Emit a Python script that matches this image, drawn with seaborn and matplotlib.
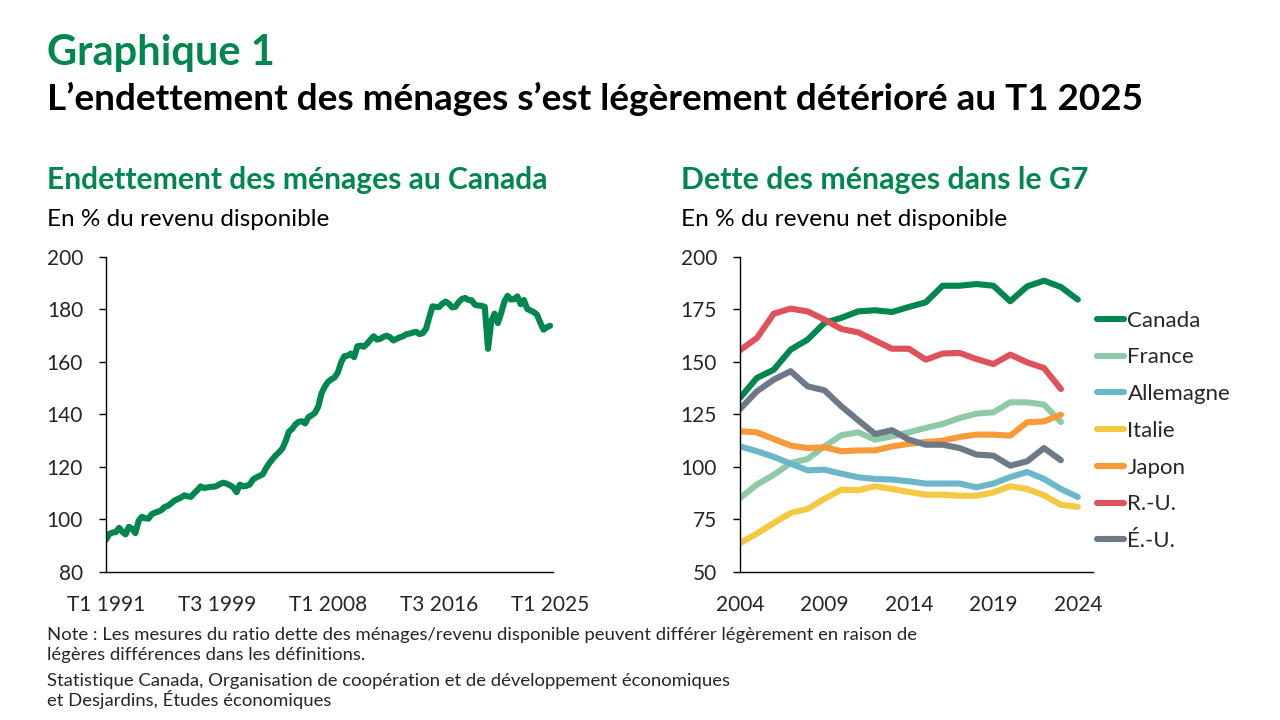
import numpy as np
import pandas as pd
import matplotlib
matplotlib.use("Agg")
import matplotlib.pyplot as plt
import seaborn as sns

# Endettement des ménages au Canada, trimestriel T1 1991 - T1 2025 (% du revenu disponible)
canada_trim = [
    92.3, 94.5, 95.0, 95.2, 96.8, 95.3, 94.3, 97.2, 96.5, 94.8,
    99.5, 101.0, 100.5, 100.3, 102.0, 102.6, 103.0, 103.6, 104.8, 105.2,
    106.2, 107.2, 107.8, 108.4, 109.2, 108.8, 108.6, 110.0, 111.2, 112.6,
    112.0, 112.2, 112.4, 112.5, 112.8, 113.6, 114.0, 113.6, 113.0, 112.2,
    110.4, 113.3, 112.6, 112.8, 113.3, 115.2, 116.0, 116.6, 117.2, 119.5,
    121.4, 123.0, 124.4, 125.6, 127.0, 129.8, 133.4, 134.5, 136.2, 137.2,
    137.4, 136.6, 139.0, 139.7, 140.6, 143.0, 148.0, 150.6, 152.4, 153.4,
    154.1, 156.0, 159.8, 162.2, 162.4, 163.2, 161.8, 166.0, 166.2, 165.8,
    167.0, 168.5, 169.8, 168.5, 168.8, 169.6, 170.0, 169.4, 168.2, 168.8,
    169.4, 169.8, 170.6, 170.8, 171.2, 171.5, 170.6, 171.0, 172.6, 177.0,
    181.2, 181.0, 180.9, 182.2, 183.0, 182.2, 180.8, 181.0, 182.8, 184.0,
    184.4, 183.6, 183.5, 181.8, 181.5, 181.4, 181.0, 165.0, 175.5, 178.4,
    174.8, 178.5, 183.0, 185.2, 183.8, 183.9, 185.0, 182.0, 183.6, 180.2,
    179.6, 179.0, 178.0, 175.0, 172.3, 173.2, 173.8,
]
trim_ticks = [0, 34, 68, 102, 136]
trim_labels = ["T1 1991", "T3 1999", "T1 2008", "T3 2016", "T1 2025"]

# Dette des ménages dans le G7 (% du revenu net disponible)
annees = list(range(2004, 2025))
g7_canada = [132.9, 142.4, 146.3, 155.9, 160.6, 168.6, 171.0, 174.1, 174.6, 173.8,
             176.2, 178.4, 186.3, 186.3, 187.1, 186.3, 178.9, 186.0, 188.7, 185.7, 179.7]
g7_france = [85.2, 91.6, 96.3, 101.9, 103.8, 109.8, 115.1, 116.5, 113.0, 114.6,
             116.5, 118.6, 120.5, 123.3, 125.4, 126.0, 130.8, 130.8, 129.7, 121.4, None]
g7_allemagne = [109.8, 107.5, 104.8, 101.6, 98.4, 98.7, 96.8, 95.1, 94.3, 94.0,
                93.2, 92.1, 92.1, 92.1, 90.3, 92.1, 95.2, 97.6, 94.3, 89.5, 85.7]
g7_italie = [63.8, 68.3, 73.3, 78.1, 80.0, 84.8, 89.2, 88.9, 90.8, 89.5,
             88.1, 86.8, 86.8, 86.3, 86.3, 87.9, 90.8, 89.5, 86.5, 82.0, 81.0]
g7_japon = [117.0, 116.5, 113.3, 110.2, 109.0, 109.4, 107.5, 107.9, 107.9, 109.8,
            111.0, 111.9, 112.5, 114.3, 115.4, 115.4, 114.9, 121.3, 121.7, 124.9, None]
g7_ru = [155.6, 161.4, 173.0, 175.4, 174.1, 170.2, 165.7, 164.1, 160.2, 156.3,
         156.3, 151.1, 154.0, 154.3, 151.4, 149.0, 153.5, 149.8, 147.1, 137.1, None]
g7_eu = [127.6, 136.0, 141.6, 145.6, 138.4, 136.5, 128.9, 122.2, 115.7, 117.5,
         113.0, 110.6, 110.6, 109.0, 105.9, 105.4, 100.6, 102.7, 109.0, 103.2, None]

pays = ["Canada", "France", "Allemagne", "Italie", "Japon", "R.-U.", "É.-U."]
series_g7 = [g7_canada, g7_france, g7_allemagne, g7_italie, g7_japon, g7_ru, g7_eu]
couleurs = ["#00874E", "#8FCAA6", "#6BB6C8", "#F5C842", "#F99A38", "#E0525A", "#6C7A87"]

VERT = "#00874E"
LW = 4.4

sns.set_theme(style="ticks")
plt.rcParams["font.family"] = ["Lato", "DejaVu Sans"]

fig = plt.figure(figsize=(12.8, 7.2), dpi=100)

# Panneau de gauche : Canada trimestriel
ax1 = fig.add_axes([106 / 1280, 0.2056, 447 / 1280, 0.4375])
df_can = pd.DataFrame({"t": range(len(canada_trim)), "ratio": canada_trim})
sns.lineplot(data=df_can, x="t", y="ratio", ax=ax1, color=VERT, linewidth=LW)
ax1.set_xlim(0, 136.9)
ax1.set_ylim(80, 200)
ax1.set_yticks(range(80, 201, 20))
ax1.set_xticks(trim_ticks)
ax1.set_xticklabels(trim_labels)

# Panneau de droite : G7 annuel
ax2 = fig.add_axes([740 / 1280, 0.2056, 353 / 1280, 0.4375])
df_g7 = pd.DataFrame(
    [(a, p, v) for p, s in zip(pays, series_g7) for a, v in zip(annees, s) if v is not None],
    columns=["annee", "pays", "ratio"],
)
sns.lineplot(data=df_g7, x="annee", y="ratio", hue="pays", hue_order=pays,
             palette=couleurs, ax=ax2, linewidth=LW)
ax2.set_xlim(2004, 2024.9)
ax2.set_ylim(50, 200)
ax2.set_yticks(range(50, 201, 25))
ax2.set_xticks(range(2004, 2025, 5))
leg = ax2.legend(loc="upper left", bbox_to_anchor=(1.0, 0.844), frameon=False,
                 fontsize=16, handlelength=1.21, handletextpad=0.14, labelspacing=0.755,
                 borderaxespad=0, borderpad=0.2)
for h in leg.get_lines():
    h.set_linewidth(LW)
    h.set_solid_capstyle("round")

for ax in (ax1, ax2):
    ax.set_xlabel("")
    ax.set_ylabel("")
    sns.despine(ax=ax)
    for s in ("left", "bottom"):
        ax.spines[s].set_color("#000000")
        ax.spines[s].set_linewidth(1)
    ax.tick_params(axis="y", length=5, width=1, color="#000000", labelsize=15, pad=11.5)
    ax.tick_params(axis="x", length=0, labelsize=15, pad=16.5)
    for line in ax.get_lines():
        line.set_solid_capstyle("round")
        line.set_solid_joinstyle("round")

# Titres
fig.text(0.0367, 1 - 65 / 720, "Graphique 1", color=VERT, fontsize=30, fontweight="bold", va="baseline")
fig.text(0.0367, 1 - 110 / 720, "L’endettement des ménages s’est légèrement détérioré au T1 2025",
         color="black", fontsize=26.6, fontweight="bold", va="baseline")
fig.text(0.0367, 1 - 189 / 720, "Endettement des ménages au Canada", color=VERT,
         fontsize=21.6, fontweight="bold", va="baseline")
fig.text(0.0367, 1 - 226 / 720, "En % du revenu disponible", color="black", fontsize=17.5, va="baseline")
fig.text(681 / 1280, 1 - 189 / 720, "Dette des ménages dans le G7", color=VERT,
         fontsize=21.8, fontweight="bold", va="baseline")
fig.text(681 / 1280, 1 - 226 / 720, "En % du revenu net disponible", color="black", fontsize=17.6, va="baseline")

# Notes et sources
fig.text(0.0367, 1 - 640 / 720,
         "Note : Les mesures du ratio dette des ménages/revenu disponible peuvent différer légèrement en raison de",
         fontsize=13.3, va="baseline")
fig.text(0.0367, 1 - 660 / 720, "légères différences dans les définitions.", fontsize=13.3, va="baseline")
fig.text(0.0367, 1 - 686 / 720,
         "Statistique Canada, Organisation de coopération et de développement économiques",
         fontsize=13.3, va="baseline")
fig.text(0.0367, 1 - 706 / 720, "et Desjardins, Études économiques", fontsize=13.3, va="baseline")

fig.savefig("out.png", dpi=100)
